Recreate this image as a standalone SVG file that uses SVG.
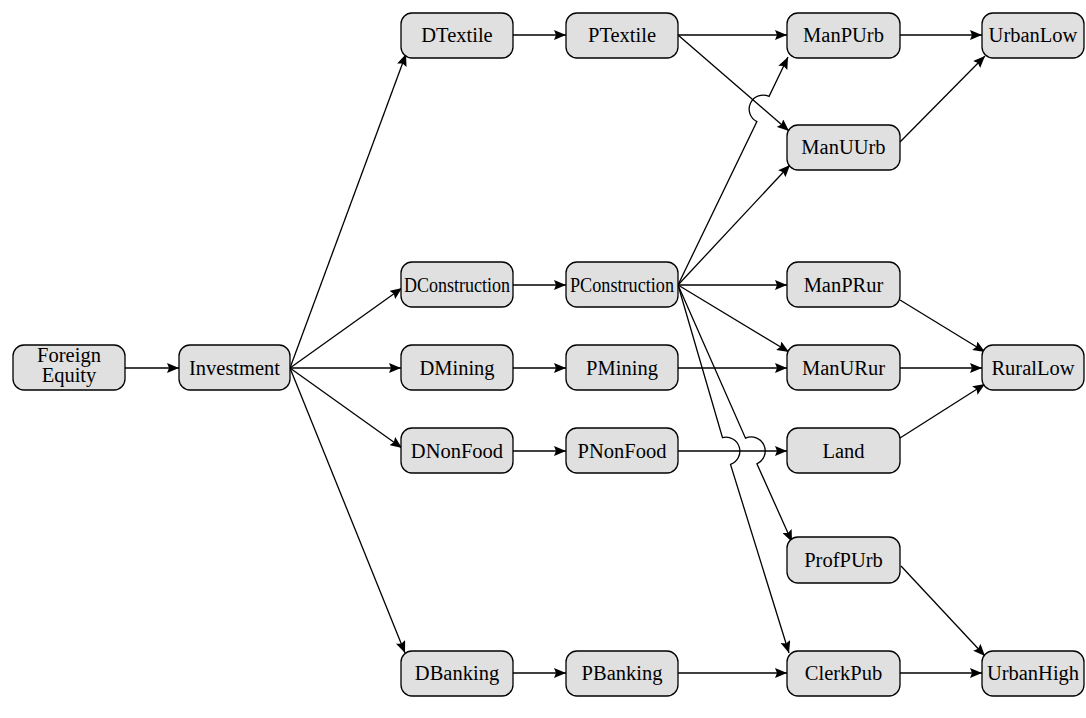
<svg xmlns="http://www.w3.org/2000/svg" width="1086" height="718" viewBox="0 0 1086 718">
  <style>
    .node rect { fill: #e0e0e0; stroke: #000; stroke-width: 1.3; }
    .node text { font-size: 20.5px; fill: #000; text-anchor: middle; }
    .edge { fill: none; stroke: #000; stroke-width: 1.3; marker-end: url(#arrow); }
  </style>
  <defs>
    <marker id="arrow" viewBox="0 0 12 10" refX="12" refY="5" markerWidth="12" markerHeight="10" orient="auto" markerUnits="userSpaceOnUse">
      <path d="M0,0 L12,5 L0,10 L2,5 z" fill="#000"/>
    </marker>
  </defs>

  <g id="connectors">
    <path class="edge" d="M125,368 H179"/>
    <path class="edge" d="M290,368 L406,54"/>
    <path class="edge" d="M290,368 L402,288"/>
    <path class="edge" d="M290,368 H401"/>
    <path class="edge" d="M290,368 L402,448"/>
    <path class="edge" d="M290,368 L405,653"/>
    <path class="edge" d="M513,35 H566"/>
    <path class="edge" d="M678,35 H787"/>
    <path class="edge" d="M678,35 L789,131"/>
    <path class="edge" d="M900,35 H982"/>
    <path class="edge" d="M900,142 L985,56"/>
    <path class="edge" d="M513,285 H566"/>
    <!-- jumps over PTextile to ManUUrb -->
    <path class="edge" d="M678,285 L756.9,121.6 A14,14 0 0,1 769.1,96.4 L788,57"/>
    <path class="edge" d="M678,285 L790,165"/>
    <path class="edge" d="M678,285 H787"/>
    <path class="edge" d="M678,285 L789,352"/>
    <!-- both jump over PNonFood to Land -->
    <path class="edge" d="M678,285 L745.5,438.2 A14,14 0 0,1 756.9,463.8 L792,542"/>
    <path class="edge" d="M678,285 L722.5,437.6 A14,14 0 0,1 730.5,464.4 L789,653"/>
    <path class="edge" d="M513,368 H566"/>
    <path class="edge" d="M678,368 H787"/>
    <path class="edge" d="M513,451 H566"/>
    <path class="edge" d="M678,451 H787"/>
    <path class="edge" d="M900,300 L985,352"/>
    <path class="edge" d="M900,368 H982"/>
    <path class="edge" d="M900,438 L985,384"/>
    <path class="edge" d="M901,566 L985,656"/>
    <path class="edge" d="M513,673 H566"/>
    <path class="edge" d="M678,673 H787"/>
    <path class="edge" d="M900,673 H982"/>
  </g>

  <g id="nodes" font-family="'Liberation Serif', 'Times New Roman', Times, 'DejaVu Serif', serif">
  <g id="ForeignEquity" class="node"><rect x="13" y="345" width="112" height="45" rx="11"/><text x="69" y="362">Foreign</text><text x="69" y="382">Equity</text></g>
  <g id="Investment" class="node"><rect x="179" y="345" width="111" height="45" rx="11"/><text x="234.5" y="375">Investment</text></g>

  <g id="DTextile" class="node"><rect x="401" y="13" width="112" height="45" rx="11"/><text x="457" y="42">DTextile</text></g>
  <g id="DConstruction" class="node"><rect x="401" y="262" width="112" height="45" rx="11"/><text x="457" y="292" textLength="106" lengthAdjust="spacingAndGlyphs">DConstruction</text></g>
  <g id="DMining" class="node"><rect x="401" y="345" width="112" height="45" rx="11"/><text x="457" y="375">DMining</text></g>
  <g id="DNonFood" class="node"><rect x="401" y="428" width="112" height="45" rx="11"/><text x="457" y="458">DNonFood</text></g>
  <g id="DBanking" class="node"><rect x="401" y="651" width="112" height="45" rx="11"/><text x="457" y="680">DBanking</text></g>

  <g id="PTextile" class="node"><rect x="566" y="13" width="112" height="45" rx="11"/><text x="622" y="42">PTextile</text></g>
  <g id="PConstruction" class="node"><rect x="566" y="262" width="112" height="45" rx="11"/><text x="622" y="292" textLength="104" lengthAdjust="spacingAndGlyphs">PConstruction</text></g>
  <g id="PMining" class="node"><rect x="566" y="345" width="112" height="45" rx="11"/><text x="622" y="375">PMining</text></g>
  <g id="PNonFood" class="node"><rect x="566" y="428" width="112" height="45" rx="11"/><text x="622" y="458">PNonFood</text></g>
  <g id="PBanking" class="node"><rect x="566" y="651" width="112" height="45" rx="11"/><text x="622" y="680">PBanking</text></g>

  <g id="ManPUrb" class="node"><rect x="787" y="13" width="113" height="45" rx="11"/><text x="843.5" y="42">ManPUrb</text></g>
  <g id="ManUUrb" class="node"><rect x="787" y="125" width="113" height="45" rx="11"/><text x="843.5" y="154">ManUUrb</text></g>
  <g id="ManPRur" class="node"><rect x="787" y="262" width="113" height="45" rx="11"/><text x="843.5" y="292">ManPRur</text></g>
  <g id="ManURur" class="node"><rect x="787" y="345" width="113" height="45" rx="11"/><text x="843.5" y="375">ManURur</text></g>
  <g id="Land" class="node"><rect x="787" y="428" width="113" height="45" rx="11"/><text x="843.5" y="458">Land</text></g>
  <g id="ProfPUrb" class="node"><rect x="787" y="537" width="113" height="46" rx="11"/><text x="843.5" y="567">ProfPUrb</text></g>
  <g id="ClerkPub" class="node"><rect x="787" y="651" width="113" height="45" rx="11"/><text x="843.5" y="680">ClerkPub</text></g>

  <g id="UrbanLow" class="node"><rect x="982" y="13" width="102" height="45" rx="11"/><text x="1033" y="42">UrbanLow</text></g>
  <g id="RuralLow" class="node"><rect x="982" y="345" width="102" height="45" rx="11"/><text x="1033" y="375">RuralLow</text></g>
  <g id="UrbanHigh" class="node"><rect x="982" y="651" width="102" height="45" rx="11"/><text x="1033" y="680">UrbanHigh</text></g>
  </g>
</svg>
